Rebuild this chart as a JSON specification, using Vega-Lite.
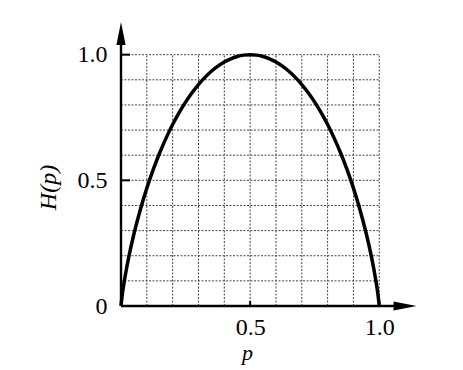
{
  "$schema": "https://vega.github.io/schema/vega-lite/v6.json",
  "autosize": "none",
  "padding": {"left": 121, "top": 22, "right": 45, "bottom": 64},
  "width": 297,
  "height": 284,
  "background": "white",
  "config": {"view": {"stroke": null}, "font": "Liberation Serif"},
  "datasets": {
    "gridv": [{"v": 0.1}, {"v": 0.2}, {"v": 0.3}, {"v": 0.4}, {"v": 0.5}, {"v": 0.6}, {"v": 0.7}, {"v": 0.8}, {"v": 0.9}, {"v": 1.0}],
    "entropy": [
      {"p": 0, "H": 0}, {"p": 0.005, "H": 0.0454}, {"p": 0.01, "H": 0.0808}, {"p": 0.02, "H": 0.1414},
      {"p": 0.03, "H": 0.1944}, {"p": 0.05, "H": 0.2864}, {"p": 0.075, "H": 0.3843}, {"p": 0.1, "H": 0.469},
      {"p": 0.125, "H": 0.5436}, {"p": 0.15, "H": 0.6098}, {"p": 0.175, "H": 0.669}, {"p": 0.2, "H": 0.7219},
      {"p": 0.225, "H": 0.7692}, {"p": 0.25, "H": 0.8113}, {"p": 0.275, "H": 0.8485}, {"p": 0.3, "H": 0.8813},
      {"p": 0.325, "H": 0.9097}, {"p": 0.35, "H": 0.9341}, {"p": 0.375, "H": 0.9544}, {"p": 0.4, "H": 0.971},
      {"p": 0.425, "H": 0.9837}, {"p": 0.45, "H": 0.9928}, {"p": 0.475, "H": 0.9982}, {"p": 0.5, "H": 1.0},
      {"p": 0.525, "H": 0.9982}, {"p": 0.55, "H": 0.9928}, {"p": 0.575, "H": 0.9837}, {"p": 0.6, "H": 0.971},
      {"p": 0.625, "H": 0.9544}, {"p": 0.65, "H": 0.9341}, {"p": 0.675, "H": 0.9097}, {"p": 0.7, "H": 0.8813},
      {"p": 0.725, "H": 0.8485}, {"p": 0.75, "H": 0.8113}, {"p": 0.775, "H": 0.7692}, {"p": 0.8, "H": 0.7219},
      {"p": 0.825, "H": 0.669}, {"p": 0.85, "H": 0.6098}, {"p": 0.875, "H": 0.5436}, {"p": 0.9, "H": 0.469},
      {"p": 0.925, "H": 0.3843}, {"p": 0.95, "H": 0.2864}, {"p": 0.97, "H": 0.1944}, {"p": 0.98, "H": 0.1414},
      {"p": 0.99, "H": 0.0808}, {"p": 0.995, "H": 0.0454}, {"p": 1.0, "H": 0}
    ],
    "axislines": [
      {"x": 0, "x2": 0, "y": 0, "y2": 1.06},
      {"x": 0, "x2": 1.08, "y": 0, "y2": 0}
    ],
    "ticks": [
      {"x": 0, "x2": 0.035, "y": 0.5, "y2": 0.5},
      {"x": 0, "x2": 0.035, "y": 1.0, "y2": 1.0},
      {"x": 0.5, "x2": 0.5, "y": 0, "y2": 0.02},
      {"x": 1.0, "x2": 1.0, "y": 0, "y2": 0.02}
    ],
    "arrowUp": [{"x": 0, "y": 1.084}],
    "arrowRight": [{"x": 1.1, "y": 0}]
  },
  "layer": [
    {
      "data": {"name": "gridv"},
      "mark": {"type": "rule", "stroke": "#444", "strokeWidth": 1, "strokeDash": [2, 1.5]},
      "encoding": {
        "x": {"field": "v", "type": "quantitative", "scale": {"domain": [0, 1.15], "nice": false, "zero": false},
          "axis": {"values": [0.5, 1.0], "format": ".1f", "domain": false, "ticks": false, "grid": false,
            "labelFontSize": 24, "labelColor": "black", "labelPadding": 9, "labelFont": "Liberation Serif",
            "title": "p", "titleFont": "Liberation Serif", "titleFontStyle": "italic", "titleFontWeight": "normal",
            "titleFontSize": 22, "titleColor": "black", "titleX": 126, "titleY": 53, "titleBaseline": "alphabetic", "titleAnchor": "middle", "titleAlign": "center"}},
        "y": {"datum": 0, "type": "quantitative", "scale": {"domain": [0, 1.13], "nice": false, "zero": false},
          "axis": {"values": [0, 0.5, 1.0], "labelExpr": "datum.value == 0 ? '0' : format(datum.value, '.1f')",
            "domain": false, "ticks": false, "grid": false,
            "labelFontSize": 24, "labelColor": "black", "labelPadding": 14, "labelFont": "Liberation Serif",
            "title": "H(p)", "titleFont": "Liberation Serif", "titleFontStyle": "italic", "titleFontWeight": "normal",
            "titleFontSize": 24, "titleColor": "black", "titleX": -73, "titleY": 165, "titleBaseline": "middle", "titleAngle": -90, "titleAlign": "center"}},
        "y2": {"datum": 1}
      }
    },
    {
      "data": {"name": "gridv"},
      "mark": {"type": "rule", "stroke": "#444", "strokeWidth": 1, "strokeDash": [2, 1.5]},
      "encoding": {
        "y": {"field": "v", "type": "quantitative"},
        "x": {"datum": 0, "type": "quantitative"},
        "x2": {"datum": 1}
      }
    },
    {
      "data": {"name": "ticks"},
      "mark": {"type": "rule", "stroke": "black", "strokeWidth": 2},
      "encoding": {
        "x": {"field": "x", "type": "quantitative"},
        "x2": {"field": "x2"},
        "y": {"field": "y", "type": "quantitative"},
        "y2": {"field": "y2"}
      }
    },
    {
      "data": {"name": "axislines"},
      "mark": {"type": "rule", "stroke": "black", "strokeWidth": 2.4},
      "encoding": {
        "x": {"field": "x", "type": "quantitative"},
        "x2": {"field": "x2"},
        "y": {"field": "y", "type": "quantitative"},
        "y2": {"field": "y2"}
      }
    },
    {
      "data": {"name": "entropy"},
      "mark": {"type": "line", "stroke": "black", "strokeWidth": 3.5, "interpolate": "monotone"},
      "encoding": {
        "x": {"field": "p", "type": "quantitative"},
        "y": {"field": "H", "type": "quantitative"}
      }
    },
    {
      "data": {"name": "arrowUp"},
      "mark": {"type": "point", "shape": "M0,-1L0.4,1L-0.4,1Z", "filled": true, "fill": "black", "stroke": null, "size": 529, "opacity": 1},
      "encoding": {
        "x": {"field": "x", "type": "quantitative"},
        "y": {"field": "y", "type": "quantitative"}
      }
    },
    {
      "data": {"name": "arrowRight"},
      "mark": {"type": "point", "shape": "M1,0L-1,0.4L-1,-0.4Z", "filled": true, "fill": "black", "stroke": null, "size": 529, "opacity": 1},
      "encoding": {
        "x": {"field": "x", "type": "quantitative"},
        "y": {"field": "y", "type": "quantitative"}
      }
    }
  ]
}
